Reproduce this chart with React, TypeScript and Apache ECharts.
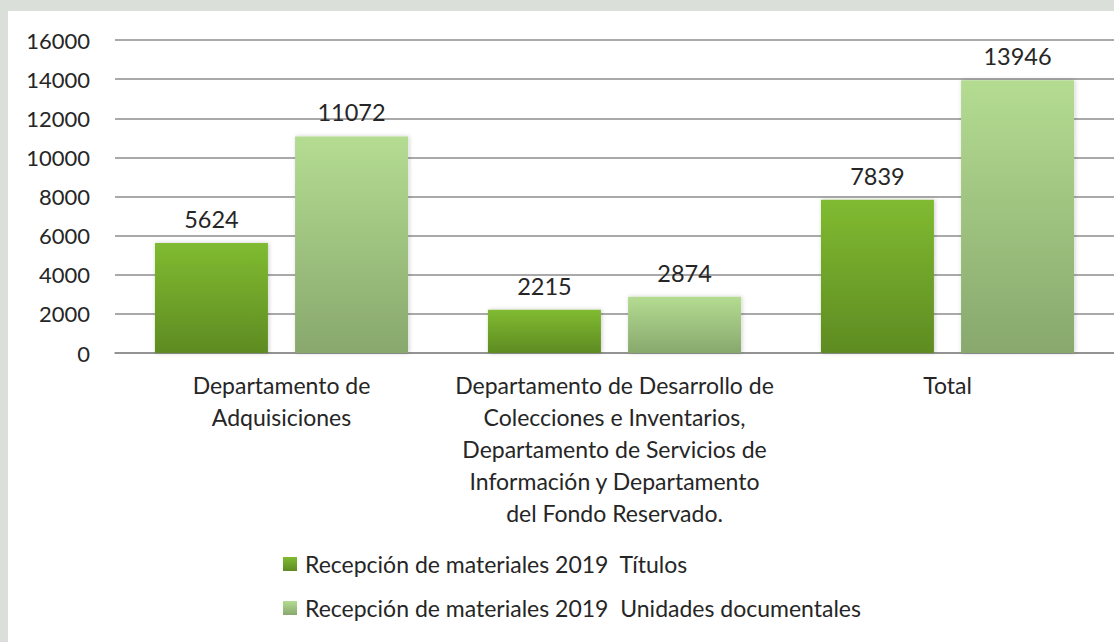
import React, { useEffect, useRef } from "react";
import * as echarts from "echarts";

const categories: string[] = [
  "Departamento de\nAdquisiciones",
  "Departamento de Desarrollo de\nColecciones e Inventarios,\nDepartamento de Servicios de\nInformación y Departamento\ndel Fondo Reservado.",
  "Total",
];
const seriesNames: string[] = [
  "Recepción de materiales 2019  Títulos",
  "Recepción de materiales 2019  Unidades documentales",
];
const titulos: number[] = [5624, 2215, 7839];
const unidades: number[] = [11072, 2874, 13946];

const FONT = "Lato";

export default function App() {
  const ref = useRef<HTMLDivElement>(null);
  useEffect(() => {
    if (!ref.current) return;
    const chart = echarts.init(ref.current, undefined, { renderer: "svg" });
    const grad = (top: string, bottom: string) =>
      new echarts.graphic.LinearGradient(0, 0, 0, 1, [
        { offset: 0, color: top },
        { offset: 1, color: bottom },
      ]);
    const labelStyle = {
      show: true,
      position: "top" as const,
      distance: 12,
      fontFamily: FONT,
      fontSize: 23.5,
      color: "#262626",
    };
    chart.setOption({
      animation: false,
      backgroundColor: "#ffffff",
      textStyle: { fontFamily: FONT },
      grid: { left: 107, right: 0, top: 29, bottom: 289, containLabel: false },
      legend: {
        orient: "vertical",
        left: 275,
        top: 541,
        padding: 0,
        itemWidth: 14,
        itemHeight: 14,
        itemGap: 20,
        icon: "rect",
        textStyle: {
          fontFamily: FONT,
          fontSize: 23,
          color: "#262626",
          lineHeight: 24,
          padding: [0, 0, 0, 3],
        },
        data: seriesNames,
      },
      xAxis: {
        type: "category",
        data: categories,
        axisLine: { show: true, lineStyle: { color: "#8c8c8c", width: 1.5 } },
        axisTick: { show: false },
        axisLabel: {
          interval: 0,
          margin: 16,
          fontFamily: FONT,
          fontSize: 23,
          lineHeight: 32,
          color: "#262626",
          align: "center",
        },
      },
      yAxis: {
        type: "value",
        min: 0,
        max: 16000,
        interval: 2000,
        axisLine: { show: false },
        axisTick: { show: false },
        axisLabel: {
          margin: 25,
          fontFamily: FONT,
          fontSize: 22,
          color: "#262626",
          formatter: (v: number) => String(v),
        },
        splitLine: { lineStyle: { color: "#8c8c8c", width: 1.5 } },
      },
      series: [
        {
          name: seriesNames[0],
          type: "bar",
          data: titulos,
          barWidth: 113,
          barGap: "24%",
          itemStyle: {
            color: grad("#80bb31", "#5e8b22"),
            shadowBlur: 4,
            shadowColor: "rgba(0,0,0,0.2)",
            shadowOffsetX: 1,
          },
          label: labelStyle,
        },
        {
          name: seriesNames[1],
          type: "bar",
          data: unidades,
          barWidth: 113,
          itemStyle: {
            color: grad("#b4dc91", "#88a86d"),
            shadowBlur: 4,
            shadowColor: "rgba(0,0,0,0.2)",
            shadowOffsetX: 1,
          },
          label: labelStyle,
        },
      ],
    });
    return () => chart.dispose();
  }, []);
  return (
    <div
      style={{
        position: "fixed",
        left: 0,
        top: 0,
        width: 1114,
        height: 642,
        background: "#dadfda",
      }}
    >
      <div
        ref={ref}
        style={{ position: "absolute", left: 8, top: 11, width: 1106, height: 631 }}
      />
    </div>
  );
}
